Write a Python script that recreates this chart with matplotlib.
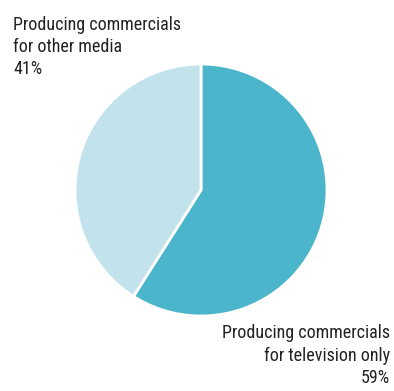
import matplotlib.pyplot as plt

labels = ["Producing commercials\nfor television only\n59%",
          "Producing commercials\nfor other media\n41%"]
shares = [59, 41]
colors = ["#4bb5cc", "#c3e3ec"]

plt.rcParams['font.family'] = ['Roboto Condensed', 'Liberation Sans Narrow',
                               'Liberation Sans', 'DejaVu Sans']

fig = plt.figure(figsize=(3.94, 3.91), dpi=100)
cx, cy, r = 201, 190, 126
ax = fig.add_axes([(cx - r) / 394, (391 - cy - r) / 391, 2 * r / 394, 2 * r / 391])
ax.pie(shares, colors=colors, startangle=90, counterclock=False,
       wedgeprops=dict(edgecolor="white", linewidth=2))
ax.set_xlim(-1, 1)
ax.set_ylim(-1, 1)
ax.set_aspect("auto")
ax.axis("off")

fig.text(13 / 394, 1 - 16 / 391, labels[1], ha="left", va="top",
         fontsize=13, color="#222222", linespacing=1.3)
fig.text(390 / 394, 1 - 387 / 391, labels[0], ha="right", va="bottom",
         fontsize=13, color="#222222", linespacing=1.3, multialignment="right")

fig.savefig("out.png", dpi=100)
